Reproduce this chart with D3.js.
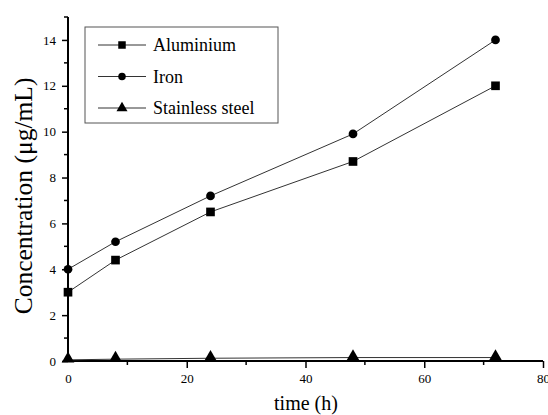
<!DOCTYPE html>
<html><head><meta charset="utf-8">
<script src="https://cdn.jsdelivr.net/npm/d3@7"></script>
<style>body{margin:0;background:#fff}svg{display:block}</style>
</head><body>
<script>
const times = [0, 8, 24, 48, 72];
const aluminium = [3.0, 4.4, 6.5, 8.7, 12.0];
const iron = [4.0, 5.2, 7.2, 9.9, 14.0];
const stainless = [0.05, 0.08, 0.12, 0.15, 0.15];
const seriesNames = ["Aluminium", "Iron", "Stainless steel"];
const xTicks = [0, 20, 40, 60, 80];
const yTicks = [0, 2, 4, 6, 8, 10, 12, 14];

const W = 548, H = 415;
const svg = d3.select("body").append("svg").attr("width", W).attr("height", H);
const font = "'Liberation Serif','Times New Roman',serif";
const x = d3.scaleLinear().domain([0, 80]).range([68, 543]);
const y = d3.scaleLinear().domain([0, 15]).range([361, 17]);

// axes
const xAxis = d3.axisBottom(x).tickValues(xTicks).tickSize(7).tickPadding(6);
const gx = svg.append("g").attr("transform", `translate(0,${y(0)})`).call(xAxis);
gx.selectAll(".tick").filter(d => d === 0).select("line").remove();
gx.selectAll(".domain").remove();
gx.append("g").selectAll("line").data([10, 30, 50, 70]).join("line")
  .attr("x1", d => x(d)).attr("x2", d => x(d)).attr("y1", 0).attr("y2", 4).attr("stroke", "#000").attr("stroke-width", 1.5);
gx.append("line").attr("x1", x(0)).attr("x2", x(80)).attr("stroke", "#000").attr("stroke-width", 2);

const yAxis = d3.axisLeft(y).tickValues(yTicks).tickSize(6).tickPadding(6);
const gy = svg.append("g").attr("transform", `translate(${x(0)},0)`).call(yAxis);
gy.selectAll(".domain").remove();
gy.append("g").selectAll("line").data([1, 3, 5, 7, 9, 11, 13, 15]).join("line")
  .attr("y1", d => y(d)).attr("y2", d => y(d)).attr("x1", 0).attr("x2", -4).attr("stroke", "#000").attr("stroke-width", 1.5);
gy.append("line").attr("y1", y(0)).attr("y2", y(15)).attr("stroke", "#000").attr("stroke-width", 2);

svg.selectAll(".tick line").attr("stroke-width", 1.5);
svg.selectAll(".tick text").attr("font-family", font).attr("font-size", 13).attr("fill", "#000");

// series
const data = [aluminium, iron, stainless];
const line = d3.line().x((d, i) => x(times[i])).y(d => y(d));
const sym = [d3.symbolSquare, d3.symbolCircle, d3.symbolTriangle];
const symSize = [75, 60, 70];
data.forEach((vals, k) => {
  svg.append("path").datum(vals).attr("d", line).attr("fill", "none").attr("stroke", "#333").attr("stroke-width", 1);
  svg.append("g").selectAll("path").data(vals).join("path")
    .attr("transform", (d, i) => `translate(${x(times[i])},${y(d) - (k === 2 ? 1 : 0)})`)
    .attr("d", d3.symbol().type(sym[k]).size(symSize[k]))
    .attr("fill", "#000");
});

// legend
const lg = svg.append("g");
lg.append("rect").attr("x", 85).attr("y", 27).attr("width", 193).attr("height", 96)
  .attr("fill", "#fff").attr("stroke", "#555").attr("stroke-width", 1);
seriesNames.forEach((n, k) => {
  const ly = 45 + k * 31.5;
  lg.append("line").attr("x1", 98).attr("x2", 146).attr("y1", ly).attr("y2", ly).attr("stroke", "#333");
  lg.append("path").attr("transform", `translate(122,${ly})`)
    .attr("d", d3.symbol().type(sym[k]).size(symSize[k] * 0.75)).attr("fill", "#000");
  lg.append("text").attr("x", 153).attr("y", ly + 6).text(n)
    .attr("font-family", font).attr("font-size", 18).attr("fill", "#000");
});

// axis labels
svg.append("text").attr("x", 306).attr("y", 410).attr("text-anchor", "middle")
  .attr("font-family", font).attr("font-size", 20).text("time (h)");
svg.append("text").attr("transform", "translate(32,196) rotate(-90)").attr("text-anchor", "middle")
  .attr("font-family", font).attr("font-size", 25.5).text("Concentration (μg/mL)");
</script>
</body></html>
